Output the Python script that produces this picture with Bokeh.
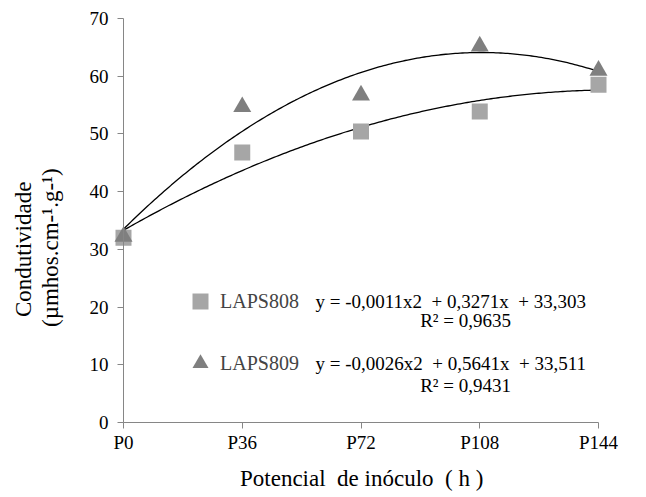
import numpy as np
from bokeh.plotting import figure
from bokeh.models import Label, Legend, LegendItem, Range1d, FixedTicker, Title
from bokeh.embed import file_html
from bokeh.resources import INLINE

# ---- data ----
hours = [0, 36, 72, 108, 144]
tick_labels = ["P0", "P36", "P72", "P108", "P144"]
laps808 = [32.0, 46.8, 50.4, 53.9, 58.5]
laps809 = [32.2, 54.7, 56.7, 65.2, 61.0]
coef808 = [-0.0011, 0.3271, 33.303]
coef809 = [-0.0026, 0.5641, 33.511]
eq808 = "y = -0,0011x2\u00a0 + 0,3271x\u00a0 + 33,303"
eq809 = "y = -0,0026x2\u00a0 + 0,5641x\u00a0 + 33,511"
r2_808 = "R² = 0,9635"
r2_809 = "R² = 0,9431"
y_ticks = [0, 10, 20, 30, 40, 50, 60, 70]
x_title = "Potencial\u00a0 de inóculo\u00a0 ( h )"
y_title1 = "Condutividade"
y_title2 = "(µmhos.cm-¹.g-¹)"

FONT = "Liberation Serif"
AX = "#868686"

p = figure(width=646, height=497, output_backend="svg", toolbar_location=None,
           x_range=Range1d(-18.49, 150.06), y_range=Range1d(-6.064, 72.079),
           min_border_left=62, min_border_right=28, min_border_top=6,
           min_border_bottom=40)
p.outline_line_color = None
p.xgrid.visible = False
p.ygrid.visible = False
p.background_fill_color = "white"
p.border_fill_color = "white"

# trend lines
xs = np.linspace(0, 144, 200)
p.line(xs, np.polyval(coef808, xs), line_color="black", line_width=1.3)
p.line(xs, np.polyval(coef809, xs), line_color="black", line_width=1.3)

r808 = p.scatter(hours, laps808, marker="square", size=16, fill_color="#A6A6A6",
                 line_color=None)
r809 = p.scatter(hours, laps809, marker="triangle", size=18, fill_color="#7F7F7F",
                 line_color=None)

# axes
p.xaxis.ticker = FixedTicker(ticks=hours)
p.xaxis.major_label_overrides = {h: t for h, t in zip(hours, tick_labels)}
p.xaxis.bounds = (0, 144)
p.xaxis.fixed_location = 0
p.yaxis.ticker = FixedTicker(ticks=y_ticks)
p.yaxis.bounds = (0, 70)
p.yaxis.fixed_location = 0
for ax in (p.xaxis, p.yaxis):
    ax.axis_line_color = AX
    ax.major_tick_line_color = AX
    ax.minor_tick_line_color = None
    ax.major_tick_in = 0
    ax.major_tick_out = 6
    ax.major_label_text_font = FONT
    ax.major_label_text_font_size = "19px"
    ax.major_label_text_color = "black"
p.yaxis.major_label_standoff = 9
p.xaxis.major_label_standoff = 3

# x axis title
p.add_layout(Title(text=x_title, align="left", offset=177.5, standoff=12,
                   vertical_align="bottom", text_font=FONT, text_font_size="23px",
                   text_font_style="normal", text_color="black"), "below")

# y axis label (two lines, outer line added last)
for txt, off in ((y_title2, 130.5), (y_title1, 140.5)):
    p.add_layout(Title(text=txt, align="left", offset=off, standoff=0,
                       text_font=FONT, text_font_size="23px",
                       text_font_style="normal", text_color="black"), "left")

# legend
leg = Legend(items=[LegendItem(label="LAPS808", renderers=[r808]),
                    LegendItem(label="LAPS809", renderers=[r809])],
             location=(118, 74), padding=0, margin=0, border_line_color=None,
             background_fill_alpha=0, glyph_width=40, glyph_height=40,
             label_standoff=0, spacing=22,
             label_text_font=FONT, label_text_font_size="20px")
p.add_layout(leg)

for txt, xx, yy, al in ((eq808, 58.2, 21.0, "left"), (r2_808, 103.7, 17.7, "center"),
                        (eq809, 58.2, 10.2, "left"), (r2_809, 103.7, 6.4, "center")):
    p.add_layout(Label(x=xx, y=yy, text=txt, text_align=al, text_baseline="middle",
                       text_font=FONT, text_font_size="19px", text_color="black"))

open("out.html", "w").write(file_html(p, INLINE))
